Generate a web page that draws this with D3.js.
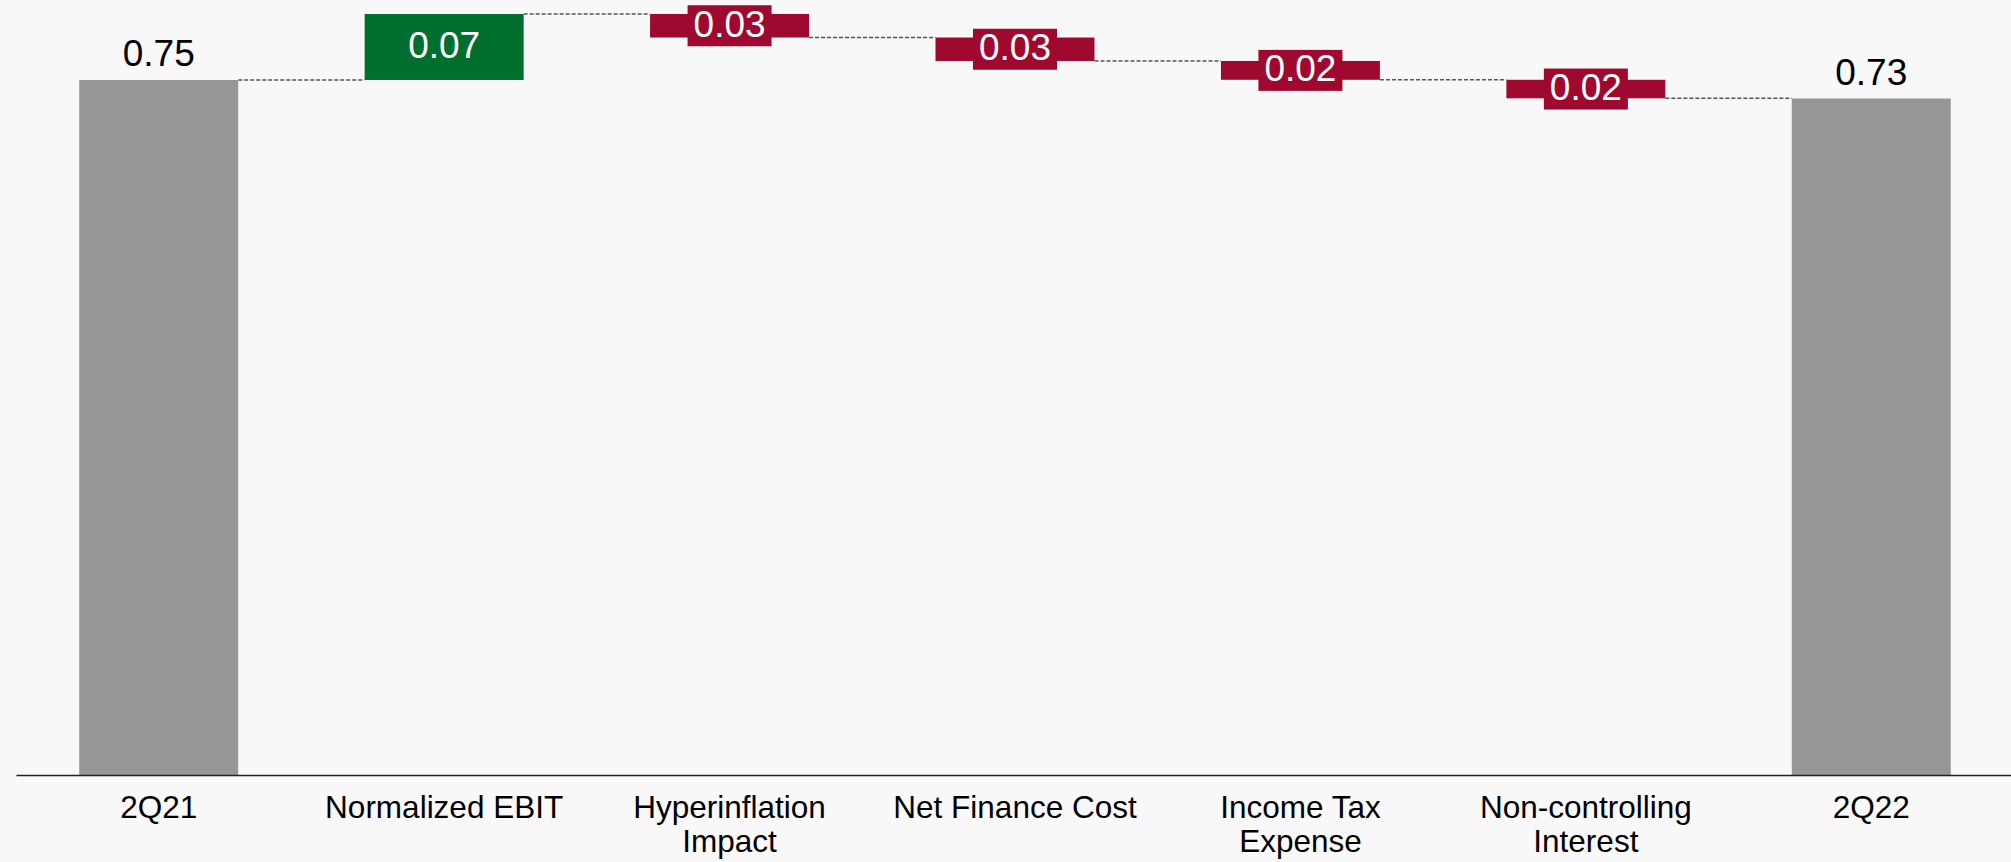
<!DOCTYPE html>
<html>
<head>
<meta charset="utf-8">
<script src="https://cdn.jsdelivr.net/npm/d3@7"></script>
<style>
  html, body { margin: 0; padding: 0; background: #f8f8f8; }
  svg { display: block; }
</style>
</head>
<body>
<svg id="chart" width="2011" height="862"></svg>
<script>
// Earnings-per-share bridge, 2Q21 to 2Q22
const categories = ["2Q21", "Normalized EBIT", "Hyperinflation Impact", "Net Finance Cost",
                    "Income Tax Expense", "Non-controlling Interest", "2Q22"];
const tickLines = [["2Q21"], ["Normalized EBIT"], ["Hyperinflation", "Impact"], ["Net Finance Cost"],
                   ["Income Tax", "Expense"], ["Non-controlling", "Interest"], ["2Q22"]];
const startTotal = 0.750;
const endTotal = 0.730;
const deltas = [0.0712, -0.0254, -0.0253, -0.0203, -0.0200];

const colors = { total: "#969696", up: "#006e2d", down: "#a0092f" };
const fmt = d3.format(".2f");

// Build the waterfall steps: each has a bottom and top value
const steps = [];
steps.push({ cat: categories[0], type: "total", lo: 0, hi: startTotal, value: startTotal, level: startTotal });
let running = startTotal;
deltas.forEach((d, i) => {
  const next = running + d;
  steps.push({ cat: categories[i + 1], type: d >= 0 ? "up" : "down",
               lo: Math.min(running, next), hi: Math.max(running, next), value: d, level: next });
  running = next;
});
steps.push({ cat: categories[6], type: "total", lo: 0, hi: endTotal, value: endTotal, level: endTotal });

const svg = d3.select("#chart");
const font = "'Liberation Sans', Arial, Helvetica, sans-serif";

const x = d3.scaleBand()
  .domain(categories)
  .range([16, 2014])
  .paddingInner(0.443)
  .paddingOuter(0.2215);

const y = d3.scaleLinear()
  .domain([0, 0.82])
  .range([775, 15.1]);

// Dashed connectors between consecutive bars
const conn = svg.append("g");
for (let i = 0; i < steps.length - 1; i++) {
  const a = steps[i], b = steps[i + 1];
  conn.append("line")
    .attr("x1", x(a.cat) + x.bandwidth())
    .attr("x2", x(b.cat))
    .attr("y1", y(a.level))
    .attr("y2", y(a.level))
    .attr("stroke", "#555")
    .attr("stroke-width", 1.4)
    .attr("stroke-dasharray", "4,2");
}

// Bars
svg.append("g").selectAll("rect")
  .data(steps)
  .join("rect")
  .attr("x", d => x(d.cat))
  .attr("width", x.bandwidth())
  .attr("y", d => y(d.hi))
  .attr("height", d => y(d.lo) - y(d.hi))
  .attr("fill", d => colors[d.type]);

// Total labels above the grey bars
svg.append("g").selectAll("text")
  .data(steps.filter(d => d.type === "total"))
  .join("text")
  .attr("x", d => x(d.cat) + x.bandwidth() / 2)
  .attr("y", d => y(d.hi) - 14)
  .attr("text-anchor", "middle")
  .attr("font-family", font)
  .attr("font-size", 37)
  .attr("fill", "#000")
  .text(d => fmt(d.value));

// Change labels on a filled box centred on each delta bar
const deltaLabels = svg.append("g").selectAll("g")
  .data(steps.filter(d => d.type !== "total"))
  .join("g")
  .attr("transform", d => `translate(${x(d.cat) + x.bandwidth() / 2},${(y(d.hi) + y(d.lo)) / 2})`);

deltaLabels.append("rect").attr("class", "box");
deltaLabels.append("text")
  .attr("text-anchor", "middle")
  .attr("y", 11)
  .attr("font-family", font)
  .attr("font-size", 37)
  .attr("fill", "#fff")
  .text(d => fmt(Math.abs(d.value)));

deltaLabels.each(function (d) {
  const g = d3.select(this);
  const w = g.select("text").node().getComputedTextLength() + 12;
  g.select("rect.box")
    .attr("x", -w / 2)
    .attr("y", -20.5)
    .attr("width", w)
    .attr("height", 41)
    .attr("fill", colors[d.type]);
});

// Category axis
const axis = svg.append("g")
  .attr("transform", `translate(0,${y(0)})`)
  .call(d3.axisBottom(x).tickSize(0).tickSizeOuter(0).tickPadding(0));

axis.select(".domain").attr("stroke", "#222").attr("stroke-width", 1.6);
axis.selectAll(".tick text").each(function (d, i) {
  const t = d3.select(this);
  t.text(null)
    .attr("y", 42.5)
    .attr("dy", null)
    .attr("font-family", font)
    .attr("font-size", 31.5)
    .attr("fill", "#000");
  tickLines[i].forEach((line, k) => {
    t.append("tspan").attr("x", 0).attr("dy", k === 0 ? 0 : 34.5).text(line);
  });
});
</script>
</body>
</html>
